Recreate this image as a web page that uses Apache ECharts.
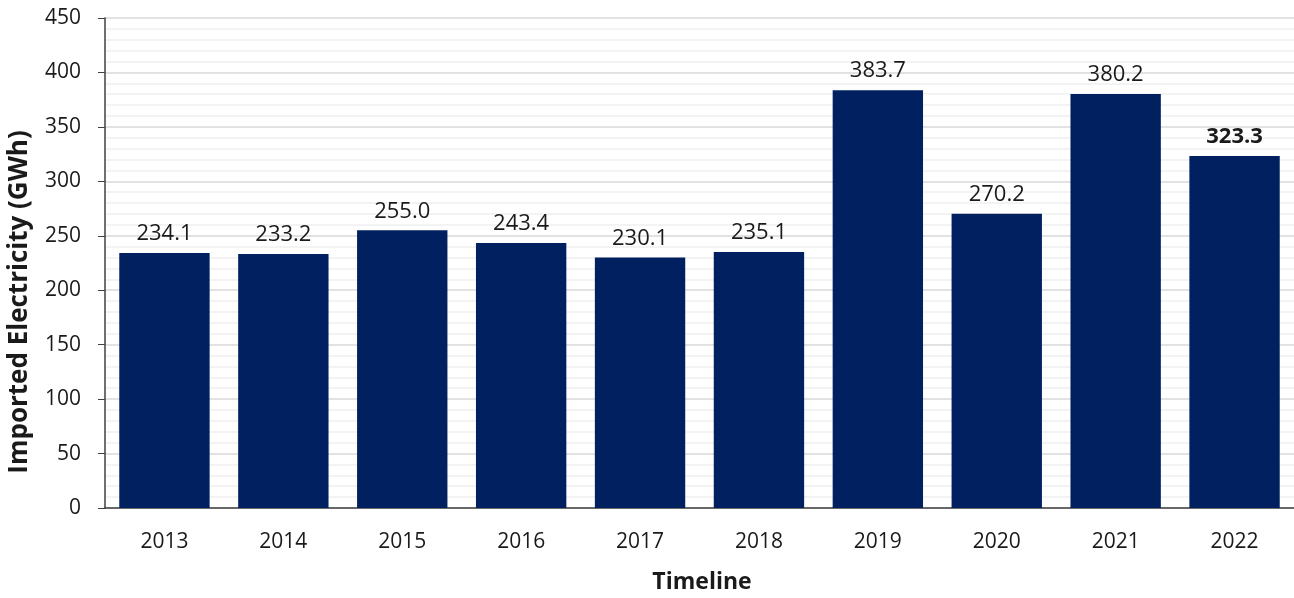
<!DOCTYPE html>
<html>
<head>
<meta charset="utf-8">
<script src="https://cdn.jsdelivr.net/npm/echarts@6/dist/echarts.min.js"></script>
<style>
  html, body { margin: 0; padding: 0; background: #fff; overflow: hidden; }
  #chart { width: 1294px; height: 598px; }
</style>
</head>
<body>
<div id="chart"></div>
<script>
// Annual imported electricity, GWh
const years = ['2013', '2014', '2015', '2016', '2017', '2018', '2019', '2020', '2021', '2022'];
const imported = [234.1, 233.2, 255.0, 243.4, 230.1, 235.1, 383.7, 270.2, 380.2, 323.3];

const FONT = '"Open Sans", "Noto Sans", sans-serif';
const NAVY = '#002060';
const TEXT = '#1a1a1a';

const chart = echarts.init(document.getElementById('chart'), null, { renderer: 'canvas' });

chart.setOption({
  animation: false,
  grid: {
    left: 105, right: 0, top: 18, bottom: 90,
    containLabel: false,
    outerBoundsMode: 'none'
  },
  xAxis: {
    type: 'category',
    data: years,
    name: 'Timeline',
    nameLocation: 'middle',
    nameGap: 63,
    nameTextStyle: { fontFamily: FONT, fontSize: 23, fontWeight: 'bold', color: TEXT, padding: [0, 0, 0, 5] },
    axisLine: { lineStyle: { color: '#404040', width: 1.5 } },
    axisTick: { alignWithLabel: true, length: 7, lineStyle: { color: '#404040' } },
    axisLabel: { fontFamily: FONT, fontSize: 21, color: TEXT, margin: 24 }
  },
  yAxis: {
    type: 'value',
    min: 0,
    max: 450,
    interval: 50,
    name: 'Imported Electricity (GWh)',
    nameLocation: 'middle',
    nameGap: 72,
    // title sits somewhat below the axis midpoint
    nameTextStyle: { fontFamily: FONT, fontSize: 26, fontWeight: 'bold', color: TEXT, padding: [0, 78, 0, 0] },
    axisLine: { show: true, lineStyle: { color: '#404040', width: 1.5 } },
    axisTick: { show: true, length: 7, lineStyle: { color: '#404040' } },
    axisLabel: { fontFamily: FONT, fontSize: 21, color: TEXT, margin: 24 },
    splitLine: { show: true, lineStyle: { color: '#d9d9d9', width: 1.5 } },
    minorTick: { show: false, splitNumber: 5 },
    minorSplitLine: { show: true, lineStyle: { color: '#f0f0f0', width: 1.5 } }
  },
  series: [{
    type: 'bar',
    data: imported.map((v, i) => ({
      value: v,
      label: i === imported.length - 1 ? { fontWeight: 'bold' } : undefined
    })),
    barWidth: '76%',
    itemStyle: { color: NAVY },
    label: {
      show: true,
      position: 'top',
      distance: 8,
      fontFamily: FONT,
      fontSize: 22,
      color: TEXT,
      formatter: p => p.value.toFixed(1)
    }
  }]
});
</script>
</body>
</html>
